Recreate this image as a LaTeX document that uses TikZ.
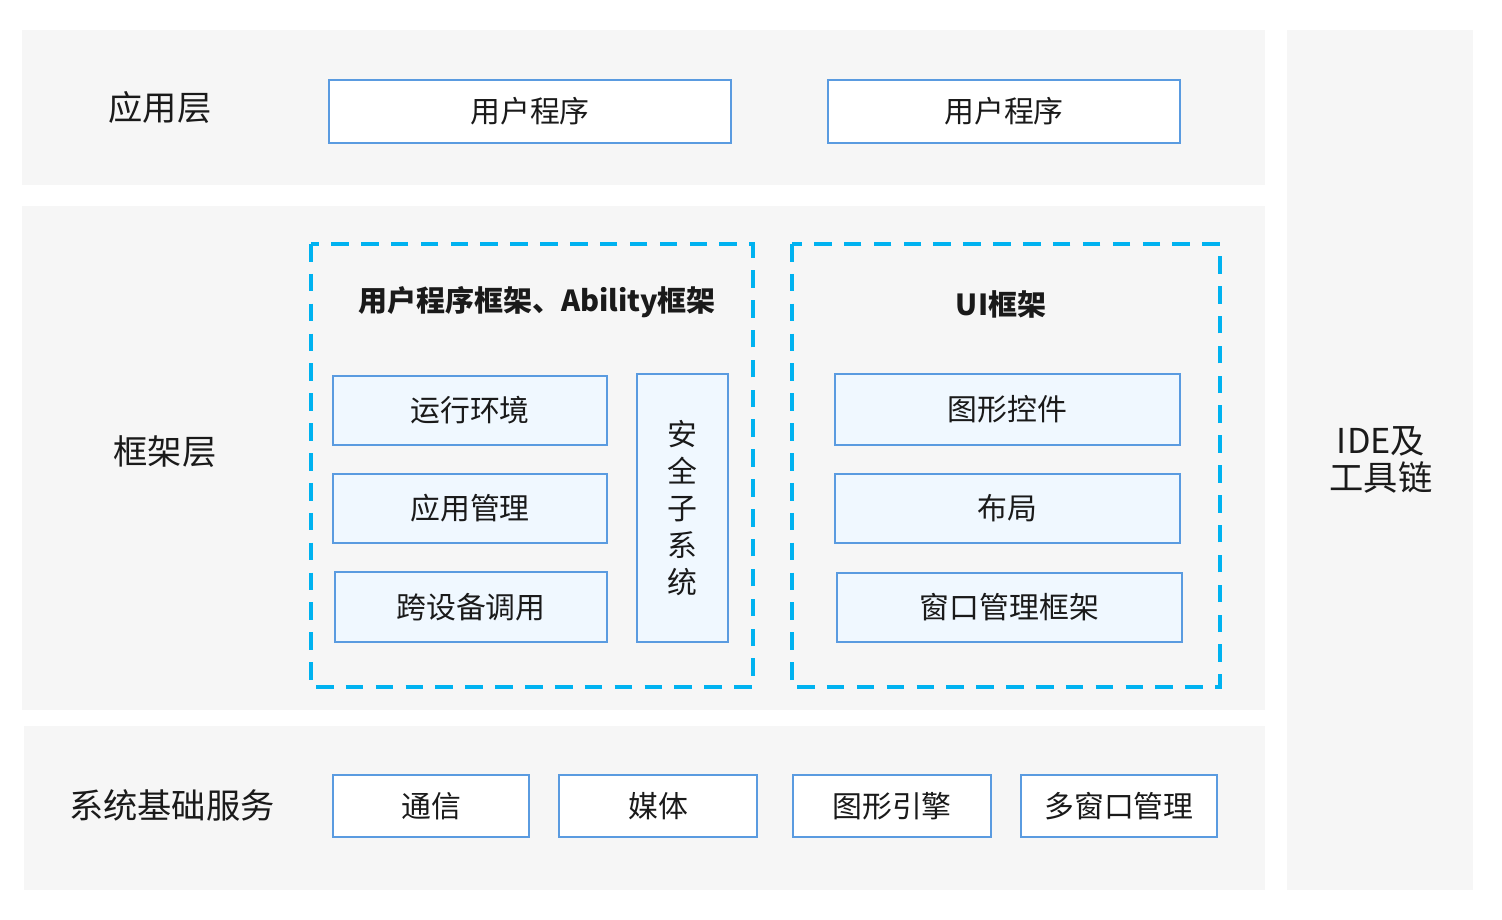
\documentclass[tikz,border=0pt]{standalone}
\usepackage{fontspec}
\setmainfont{Noto Sans CJK SC}
\usepackage{tikz}

\definecolor{bandgray}{HTML}{F6F6F6}
\definecolor{boxblue}{HTML}{5A9BE0}
\definecolor{dashcyan}{HTML}{00B2F0}
\definecolor{innerfill}{HTML}{F0F8FF}
\definecolor{txt}{HTML}{1A1A1A}

\begin{document}
\begin{tikzpicture}[x=0.02cm, y=-0.02cm,
  band/.style={fill=bandgray, draw=none},
  layerlabel/.style={text=txt, font=\fontsize{19.5}{24}\selectfont, align=center},
  whitebox/.style={draw=boxblue, line width=1.1pt, fill=white, text=txt, inner sep=0pt, font=\fontsize{17}{21}\selectfont},
  bluebox/.style={whitebox, fill=innerfill},
  dashframe/.style={draw=dashcyan, line width=2.3pt, dash pattern=on 10pt off 7pt},
  frametitle/.style={text=txt, font=\bfseries\fontsize{16.5}{20}\selectfont}]
\useasboundingbox[fill=white] (0,0) rectangle (1502,920);
\fill[band] (22,30) rectangle (1265,185);
\fill[band] (22,206) rectangle (1265,710);
\fill[band] (24,726) rectangle (1265,890);
\fill[band] (1287,30) rectangle (1473,890);

\node[layerlabel] (applayer) at (160,107) {应用层};
\node[layerlabel] (fwlayer) at (165,452) {框架层};
\node[layerlabel] (syslayer) at (172,805) {系统基础服务};
\node[layerlabel, font=\fontsize{19.5}{21}\selectfont] (ide) at (1381,460) {IDE及\\工具链};

\node[whitebox, minimum width=8.04cm, minimum height=1.26cm] (app1) at (530,111.5) {用户程序};
\node[whitebox, minimum width=7.04cm, minimum height=1.26cm] (app2) at (1004,111.5) {用户程序};

\draw[dashframe] (311,244) rectangle (753,687);
\draw[dashframe] (792,244) rectangle (1220,687);
\node[frametitle] (abilitytitle) at (537,302) {用户程序框架、Ability框架};
\node[frametitle] (uititle) at (1001,304) {UI框架};

\node[bluebox, minimum width=5.48cm, minimum height=1.38cm] (runtime) at (470,410.5) {运行环境};
\node[bluebox, minimum width=5.48cm, minimum height=1.38cm] (appmgr) at (470,508.5) {应用管理};
\node[bluebox, minimum width=5.44cm, minimum height=1.40cm] (crossdev) at (471,607) {跨设备调用};
\node[bluebox, minimum width=1.82cm, minimum height=5.36cm, align=center,
  font=\fontsize{17}{21}\selectfont] (security) at (682.5,508) {安\\全\\子\\系\\统};

\node[bluebox, minimum width=6.90cm, minimum height=1.42cm] (widgets) at (1007.5,409.5) {图形控件};
\node[bluebox, minimum width=6.90cm, minimum height=1.38cm] (layout) at (1007.5,508.5) {布局};
\node[bluebox, minimum width=6.90cm, minimum height=1.38cm] (winfw) at (1009.5,607.5) {窗口管理框架};

\node[whitebox, minimum width=3.92cm, minimum height=1.24cm] (comm) at (431,806) {通信};
\node[whitebox, minimum width=3.96cm, minimum height=1.24cm] (media) at (658,806) {媒体};
\node[whitebox, minimum width=3.96cm, minimum height=1.24cm] (gfxengine) at (892,806) {图形引擎};
\node[whitebox, minimum width=3.92cm, minimum height=1.24cm] (multiwin) at (1119,806) {多窗口管理};
\end{tikzpicture}
\end{document}
